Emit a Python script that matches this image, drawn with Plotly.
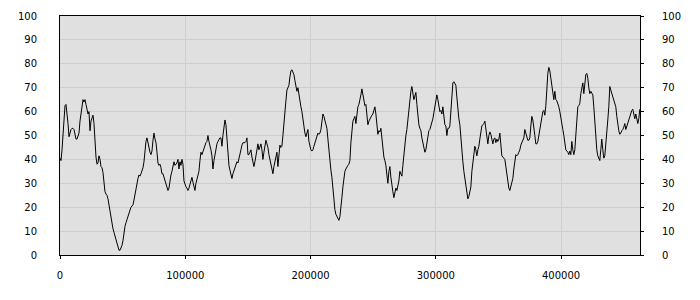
import plotly.graph_objects as go

values_part1 = [
    40.5, 39.5, 44, 50, 57, 62.5, 63, 60, 55, 49.5, 51.5, 52.5, 53, 53, 52.5, 50.5, 48.5, 48.5, 49.5, 51,
    56, 60, 63.5, 65, 64, 65, 63, 60.5, 59, 60, 52, 56, 57.5, 58.5, 55, 47, 41, 38, 38.5, 41.5,
    40, 37, 36.5, 34.5, 29, 26.5, 25.5, 25, 23.5, 21, 17, 15, 13, 11, 9.5, 8, 6, 4.5, 3, 2,
    2, 3, 4, 6, 9.5, 12, 13.5, 15, 16.5, 17, 19, 20, 20.5, 21, 23, 25.5, 27, 29, 32, 33.5,
    33, 34, 35, 36.5, 39, 44, 47.5, 49, 46.5, 44.5, 43, 42, 43.5, 48, 51, 48.5, 47, 43, 38.5, 37.5,
    38, 36.5, 34, 34, 32.5, 30.5, 29.5, 28.5, 27, 28, 32, 33.5, 35, 37.5, 39, 37.5, 38, 38.5, 40, 36,
]
values_part2 = [
    39, 37.5, 40, 38, 31, 29.5, 28.5, 28, 27, 28, 29.5, 31, 32.5, 30.5, 28.5, 27, 30, 32, 32.5, 35,
    39.5, 43, 42, 43.5, 44, 45.5, 47, 47.5, 50, 47.5, 46, 44, 41.5, 36, 39.5, 42, 45, 46.5, 47.5, 48.5,
    49, 49, 45.5, 50, 54, 56.5, 54.5, 49, 41.5, 37.5, 35.5, 33.5, 32, 34, 35.5, 37, 37.5, 39, 38.5, 40,
    42, 44, 46, 47, 47, 47, 47.5, 49, 42, 42, 43, 44, 41, 38, 37, 39, 42, 45.5, 46.5, 44,
    45.5, 46.5, 44, 40, 43, 46.5, 48, 46.5, 45, 42, 40, 38, 36, 34, 37, 39, 41, 43, 37, 43.5,
    46, 45, 45.5, 50, 56, 61.5, 64.5, 69, 70.5, 71, 74.5, 77, 77.5, 76.5, 75.5, 73, 70.5, 68.5, 70, 66.5,
    63, 62, 60, 56.5, 53, 51, 49.5, 51, 52.5, 47.5, 45.5, 44, 43.5, 44, 45.5, 47, 48.5, 50, 51, 50.5,
    51, 52.5, 56.5, 59, 58, 56, 54.5, 53, 48.5, 43, 38, 35.5, 32.5, 28, 22.5, 19, 17, 16, 15, 14.5,
]
values_part3 = [
    16, 19, 24, 28.5, 32, 35, 36, 37, 37.5, 38, 39.5, 47, 52, 56, 57, 58, 55, 59, 62, 63,
    64.5, 67, 69.5, 67, 64.5, 62.5, 63, 59, 54.5, 56, 57, 58, 58.5, 59, 60.5, 62, 59, 54.5, 50.5, 52,
    51.5, 53, 48.5, 43, 41, 39.5, 37.5, 33.5, 30, 35, 37, 32.5, 28, 26.5, 24, 27, 28, 27, 29, 31,
    35, 33.5, 33, 37.5, 42, 47, 50, 52.5, 56.5, 62.5, 66, 68.5, 70.5, 68.5, 65, 66.5, 68, 63, 58, 54.5,
    53, 52, 49, 47, 43.5, 43, 44, 47, 50, 52, 52.5, 54, 55, 57, 59.5, 62, 64.5, 67, 65, 62.5,
    60, 60.5, 59, 62, 56, 54.5, 54, 50, 53, 53, 54, 60.5, 67, 72, 72.5, 71.5, 71, 66, 60.5, 57,
    54.5, 48.5, 42, 39, 35, 32, 28.5, 24.5, 23.5, 24.5, 26, 28.5, 35, 39.5, 41.5, 45.5, 44, 41.5, 44, 45.5,
    48.5, 52, 54, 54.5, 55, 56, 52, 50, 46.5, 50, 51.5, 50.5, 48.5, 46.5, 48.5, 49, 47, 48.5, 47.5, 48.5,
]
values_part4 = [
    51, 47.5, 41.5, 41, 40.5, 40, 37, 33.5, 30, 28, 27, 28.5, 30, 32, 36, 40, 42, 41.5, 42, 43,
    44, 46, 47, 47.5, 49, 52.5, 51, 49, 48, 48, 49, 54, 58, 56.5, 54, 50, 46.5, 46.5, 47.5, 50,
    52.5, 56.5, 58.5, 60, 60.5, 58.5, 62.5, 70.5, 76, 78.5, 77, 74, 71, 69, 65, 68.5, 65, 64.5, 63.5, 62,
    60, 58, 54.5, 52.5, 50, 45.5, 44, 43.5, 43, 42, 43.5, 42, 47.5, 44, 42, 44, 50.5, 57, 62, 62.5,
    63.5, 67.5, 70.5, 72, 67.5, 73.5, 75.5, 76, 74, 70, 67.5, 68.5, 67.5, 67, 62, 54.5, 49, 44, 41.5, 40,
    39.5, 44, 48.5, 44, 40.5, 41.5, 45.5, 52, 56.5, 62, 70.5, 69, 67.5, 66, 65, 63.5, 62, 58, 54, 52,
    50.5, 51, 52, 52.5, 53.5, 55, 52.5, 54, 55, 56.5, 58, 59, 60.5, 61, 58, 57, 59, 56, 55, 57,
    61,
]
series_values = values_part1 + values_part2 + values_part3 + values_part4

SAMPLE_STEP = 798
x_values = [i * SAMPLE_STEP for i in range(len(series_values))]

x_tickvals = [0, 100000, 200000, 300000, 400000]
x_ticktext = ["0", "100000", "200000", "300000", "400000"]
y_tickvals = [0, 10, 20, 30, 40, 50, 60, 70, 80, 90, 100]
y_ticktext = [str(v) for v in y_tickvals]

FONT = dict(family="DejaVu Sans, Verdana, sans-serif", size=10, color="#000000")
GRID = "#cdcdcd"

fig = go.Figure()
fig.add_trace(go.Scatter(x=x_values, y=series_values, mode="lines",
                         line=dict(color="#000000", width=1), showlegend=False,
                         hoverinfo="skip"))
fig.add_trace(go.Scatter(x=[x_values[0]], y=[series_values[0]], mode="lines",
                         yaxis="y2", line=dict(width=0), showlegend=False,
                         hoverinfo="skip", opacity=0))

fig.update_layout(
    width=700, height=300,
    margin=dict(l=60, r=60, t=10, b=45, pad=0),
    paper_bgcolor="#ffffff",
    plot_bgcolor="#e0e0e0",
    font=FONT,
    xaxis=dict(range=[0, 463000], tickvals=x_tickvals, ticktext=x_ticktext,
               showgrid=True, gridcolor=GRID, gridwidth=1, zeroline=False,
               showline=True, linecolor="#000000", linewidth=1, mirror=True,
               ticks="outside", ticklen=3, tickcolor="#000000",
               tickfont=FONT, ticklabelstandoff=8),
    yaxis=dict(range=[0, 100], tickvals=y_tickvals, ticktext=y_ticktext,
               showgrid=True, gridcolor=GRID, gridwidth=1, zeroline=False,
               showline=True, linecolor="#000000", linewidth=1, mirror=True,
               ticks="", tickfont=FONT, ticklabelstandoff=20),
    yaxis2=dict(range=[0, 100], tickvals=y_tickvals, ticktext=y_ticktext,
                overlaying="y", side="right", anchor="x",
                showgrid=False, zeroline=False, showline=False,
                ticks="outside", ticklen=3, tickcolor="#000000",
                tickfont=FONT, ticklabelstandoff=16),
)

fig.write_html("out.html")
